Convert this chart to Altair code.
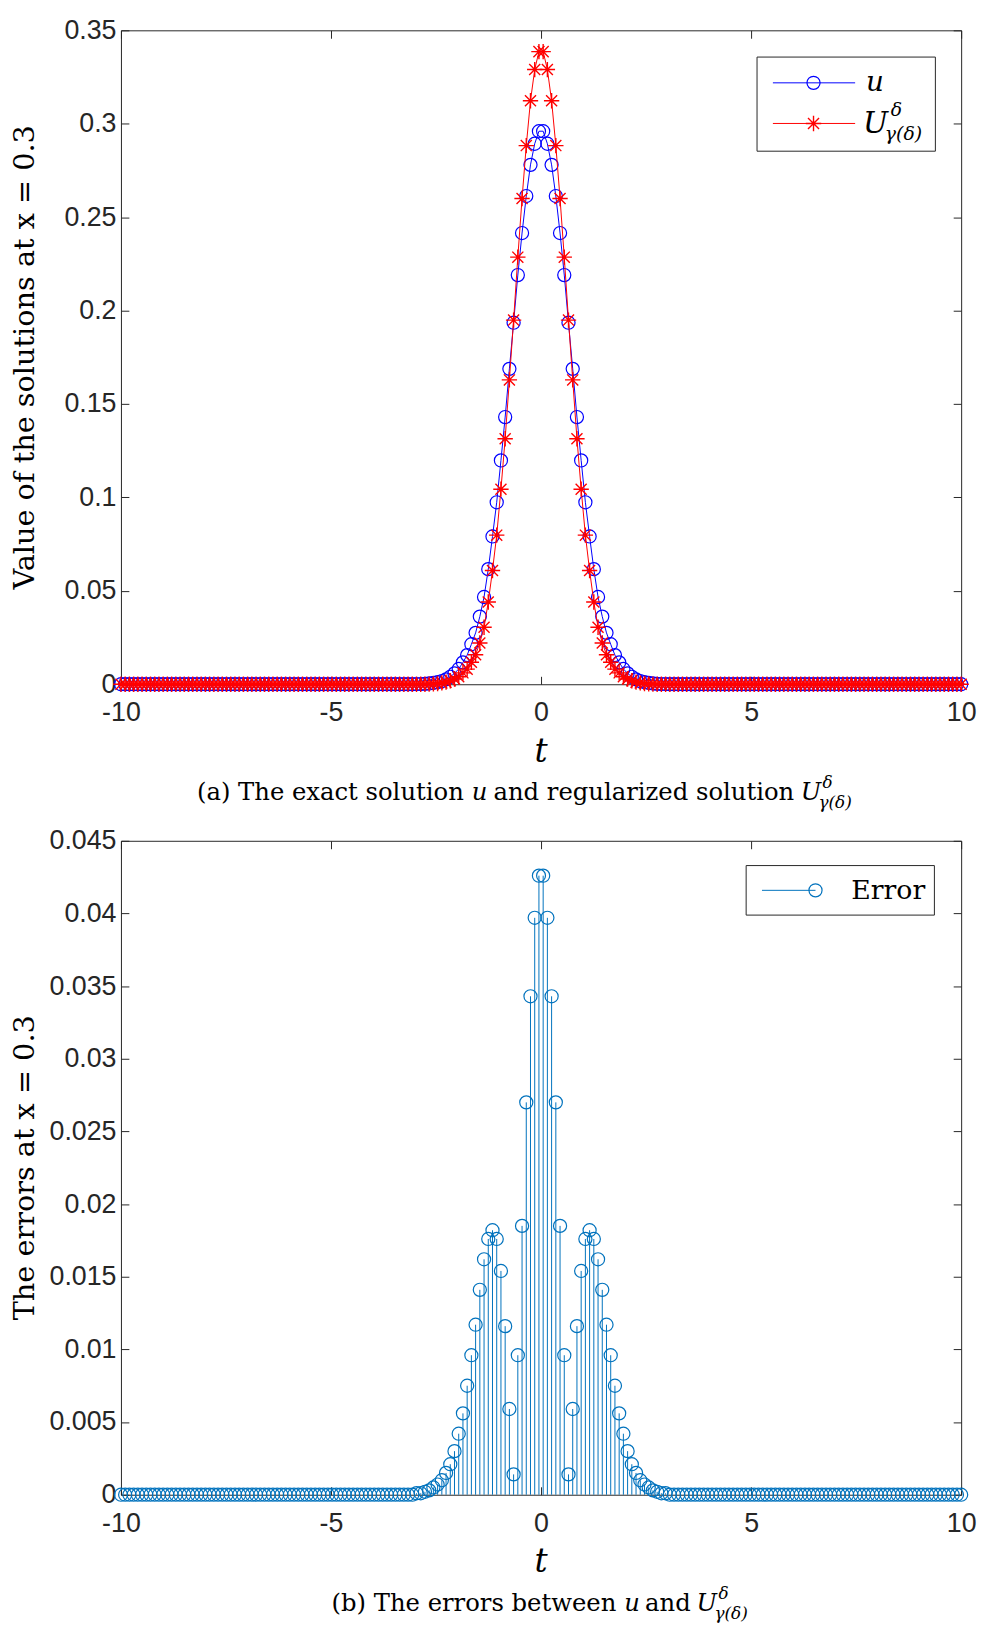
import altair as alt
import pandas as pd

# ---------------- data ----------------
T = [
    -10.0, -9.8995, -9.799, -9.6985, -9.598, -9.4975, -9.397, -9.2965, -9.196, -9.0955,
    -8.995, -8.8945, -8.794, -8.6935, -8.593, -8.4925, -8.392, -8.2915, -8.191, -8.0905,
    -7.9899, -7.8894, -7.7889, -7.6884, -7.5879, -7.4874, -7.3869, -7.2864, -7.1859, -7.0854,
    -6.9849, -6.8844, -6.7839, -6.6834, -6.5829, -6.4824, -6.3819, -6.2814, -6.1809, -6.0804,
    -5.9799, -5.8794, -5.7789, -5.6784, -5.5779, -5.4774, -5.3769, -5.2764, -5.1759, -5.0754,
    -4.9749, -4.8744, -4.7739, -4.6734, -4.5729, -4.4724, -4.3719, -4.2714, -4.1709, -4.0704,
    -3.9698, -3.8693, -3.7688, -3.6683, -3.5678, -3.4673, -3.3668, -3.2663, -3.1658, -3.0653,
    -2.9648, -2.8643, -2.7638, -2.6633, -2.5628, -2.4623, -2.3618, -2.2613, -2.1608, -2.0603,
    -1.9598, -1.8593, -1.7588, -1.6583, -1.5578, -1.4573, -1.3568, -1.2563, -1.1558, -1.0553,
    -0.9548, -0.8543, -0.7538, -0.6533, -0.5528, -0.4523, -0.3518, -0.2513, -0.1508, -0.0503,
    0.0503, 0.1508, 0.2513, 0.3518, 0.4523, 0.5528, 0.6533, 0.7538, 0.8543, 0.9548,
    1.0553, 1.1558, 1.2563, 1.3568, 1.4573, 1.5578, 1.6583, 1.7588, 1.8593, 1.9598,
    2.0603, 2.1608, 2.2613, 2.3618, 2.4623, 2.5628, 2.6633, 2.7638, 2.8643, 2.9648,
    3.0653, 3.1658, 3.2663, 3.3668, 3.4673, 3.5678, 3.6683, 3.7688, 3.8693, 3.9698,
    4.0704, 4.1709, 4.2714, 4.3719, 4.4724, 4.5729, 4.6734, 4.7739, 4.8744, 4.9749,
    5.0754, 5.1759, 5.2764, 5.3769, 5.4774, 5.5779, 5.6784, 5.7789, 5.8794, 5.9799,
    6.0804, 6.1809, 6.2814, 6.3819, 6.4824, 6.5829, 6.6834, 6.7839, 6.8844, 6.9849,
    7.0854, 7.1859, 7.2864, 7.3869, 7.4874, 7.5879, 7.6884, 7.7889, 7.8894, 7.9899,
    8.0905, 8.191, 8.2915, 8.392, 8.4925, 8.593, 8.6935, 8.794, 8.8945, 8.995,
    9.0955, 9.196, 9.2965, 9.397, 9.4975, 9.598, 9.6985, 9.799, 9.8995, 10.0,
]

U_EXACT = [
    0, 0, 0, 0, 0, 0, 0, 0, 0, 0,
    0, 0, 0, 0, 0, 0, 0, 0, 0, 0,
    0, 0, 0, 0, 0, 0, 0, 0, 0, 0,
    0, 0, 0, 0, 0, 0, 0, 0, 0, 0,
    0, 0, 0, 0, 0, 0, 0, 0, 0, 0,
    0, 0, 0, 0, 0, 0, 0, 0, 0, 0,
    0, 0, 0, 0, 0, 0, 0, 0, 0, 0,
    0.0001, 0.0001, 0.0002, 0.0004, 0.0007, 0.0011, 0.0017, 0.0026, 0.0040, 0.0058,
    0.0082, 0.0117, 0.0156, 0.0214, 0.0275, 0.0362, 0.0467, 0.0616, 0.0791, 0.0974,
    0.1198, 0.1430, 0.1688, 0.1935, 0.2190, 0.2415, 0.2613, 0.2780, 0.2893, 0.2960,
    0.2960, 0.2893, 0.2780, 0.2613, 0.2415, 0.2190, 0.1935, 0.1688, 0.1430, 0.1198,
    0.0974, 0.0791, 0.0616, 0.0467, 0.0362, 0.0275, 0.0214, 0.0156, 0.0117, 0.0082,
    0.0058, 0.0040, 0.0026, 0.0017, 0.0011, 0.0007, 0.0004, 0.0002, 0.0001, 0.0001,
    0, 0, 0, 0, 0, 0, 0, 0, 0, 0,
    0, 0, 0, 0, 0, 0, 0, 0, 0, 0,
    0, 0, 0, 0, 0, 0, 0, 0, 0, 0,
    0, 0, 0, 0, 0, 0, 0, 0, 0, 0,
    0, 0, 0, 0, 0, 0, 0, 0, 0, 0,
    0, 0, 0, 0, 0, 0, 0, 0, 0, 0,
    0, 0, 0, 0, 0, 0, 0, 0, 0, 0,
]

U_REG = [
    0, 0, 0, 0, 0, 0, 0, 0, 0, 0,
    0, 0, 0, 0, 0, 0, 0, 0, 0, 0,
    0, 0, 0, 0, 0, 0, 0, 0, 0, 0,
    0, 0, 0, 0, 0, 0, 0, 0, 0, 0,
    0, 0, 0, 0, 0, 0, 0, 0, 0, 0,
    0, 0, 0, 0, 0, 0, 0, 0, 0, 0,
    0, 0, 0, 0, 0, 0, 0, 0, 0, 0,
    0, 0, 0, 0.0001, 0.0002, 0.0004, 0.0007, 0.0011, 0.0019, 0.0028,
    0.0040, 0.0061, 0.0081, 0.0118, 0.0158, 0.0221, 0.0305, 0.0440, 0.0609, 0.0798,
    0.1044, 0.1314, 0.1629, 0.1949, 0.2286, 0.2600, 0.2883, 0.3123, 0.3290, 0.3386,
    0.3386, 0.3290, 0.3123, 0.2883, 0.2600, 0.2286, 0.1949, 0.1629, 0.1314, 0.1044,
    0.0798, 0.0609, 0.0440, 0.0305, 0.0221, 0.0158, 0.0118, 0.0081, 0.0061, 0.0040,
    0.0028, 0.0019, 0.0011, 0.0007, 0.0004, 0.0002, 0.0001, 0, 0, 0,
    0, 0, 0, 0, 0, 0, 0, 0, 0, 0,
    0, 0, 0, 0, 0, 0, 0, 0, 0, 0,
    0, 0, 0, 0, 0, 0, 0, 0, 0, 0,
    0, 0, 0, 0, 0, 0, 0, 0, 0, 0,
    0, 0, 0, 0, 0, 0, 0, 0, 0, 0,
    0, 0, 0, 0, 0, 0, 0, 0, 0, 0,
    0, 0, 0, 0, 0, 0, 0, 0, 0, 0,
]

ERR = [
    0, 0, 0, 0, 0, 0, 0, 0, 0, 0,
    0, 0, 0, 0, 0, 0, 0, 0, 0, 0,
    0, 0, 0, 0, 0, 0, 0, 0, 0, 0,
    0, 0, 0, 0, 0, 0, 0, 0, 0, 0,
    0, 0, 0, 0, 0, 0, 0, 0, 0, 0,
    0, 0, 0, 0, 0, 0, 0, 0, 0, 0,
    0, 0, 0, 0, 0, 0, 0, 0, 0, 0,
    0.0001, 0.0001, 0.0002, 0.0003, 0.0005, 0.0007, 0.0010, 0.0015, 0.0021, 0.0030,
    0.0042, 0.0056, 0.0075, 0.0096, 0.0117, 0.0141, 0.0162, 0.0176, 0.0182, 0.0176,
    0.0154, 0.0116, 0.0059, 0.0014, 0.0096, 0.0185, 0.0270, 0.0343, 0.0397, 0.0426,
    0.0426, 0.0397, 0.0343, 0.0270, 0.0185, 0.0096, 0.0014, 0.0059, 0.0116, 0.0154,
    0.0176, 0.0182, 0.0176, 0.0162, 0.0141, 0.0117, 0.0096, 0.0075, 0.0056, 0.0042,
    0.0030, 0.0021, 0.0015, 0.0010, 0.0007, 0.0005, 0.0003, 0.0002, 0.0001, 0.0001,
    0, 0, 0, 0, 0, 0, 0, 0, 0, 0,
    0, 0, 0, 0, 0, 0, 0, 0, 0, 0,
    0, 0, 0, 0, 0, 0, 0, 0, 0, 0,
    0, 0, 0, 0, 0, 0, 0, 0, 0, 0,
    0, 0, 0, 0, 0, 0, 0, 0, 0, 0,
    0, 0, 0, 0, 0, 0, 0, 0, 0, 0,
    0, 0, 0, 0, 0, 0, 0, 0, 0, 0,
]

X_TICKS = [-10, -5, 0, 5, 10]
TOP_Y_TICKS = [0, 0.05, 0.1, 0.15, 0.2, 0.25, 0.3, 0.35]
BOT_Y_TICKS = [0, 0.005, 0.01, 0.015, 0.02, 0.025, 0.03, 0.035, 0.04, 0.045]

# ---------------- styling ----------------
W, H = 848, 660
SERIF = "DejaVu Serif"
SANS = "Liberation Sans"
AX = "#262626"
BLUE = "#0000FF"
RED = "#FF0000"
STEM = "#0072BD"
STAR = "M-1,0L1,0M0,-1L0,1M-0.72,-0.72L0.72,0.72M-0.72,0.72L0.72,-0.72"
TICK_FS = 27
CAP_FS = 24.5
CIRC = 175
STAR_SIZE = 240

df = pd.DataFrame({"t": T, "u": U_EXACT, "U": U_REG, "err": ERR})
one = pd.DataFrame({"k": [0]})

xscale = alt.Scale(domain=[-10, 10], nice=False, zero=False)


def main_x_axis():
    return alt.Axis(orient="bottom", values=X_TICKS, labelExpr="'' + datum.value",
                    offset=-8, tickSize=8, tickColor=AX, tickWidth=1, domain=False,
                    grid=False, labelFont=SANS, labelFontSize=TICK_FS, labelColor=AX,
                    labelPadding=16, labelFlush=False, labelOverlap=False, title=None)


def main_y_axis(vals):
    return alt.Axis(orient="left", values=vals, labelExpr="'' + datum.value",
                    offset=-8, tickSize=8, tickColor=AX, tickWidth=1, domain=False,
                    grid=False, labelFont=SANS, labelFontSize=TICK_FS, labelColor=AX,
                    labelPadding=5, labelFlush=False, labelOverlap=False, title=None)


def sec_x_axis():
    return alt.Axis(orient="top", values=X_TICKS, offset=-8, tickSize=8, tickColor=AX,
                    tickWidth=1, labels=False, domain=False, grid=False, title=None,
                    minExtent=0, maxExtent=0)


def sec_y_axis(vals):
    return alt.Axis(orient="right", values=vals, offset=-8, tickSize=8, tickColor=AX,
                    tickWidth=1, labels=False, domain=False, grid=False, title=None,
                    minExtent=0, maxExtent=0)


def box(x1, x2, y1, y2):
    return alt.Chart(one).mark_rect(fill="white", stroke=AX, strokeWidth=1).encode(
        x=alt.value(x1), x2=alt.value(x2), y=alt.value(y1), y2=alt.value(y2))


def hline(x1, x2, y, color):
    return alt.Chart(one).mark_rule(color=color, strokeWidth=1).encode(
        x=alt.value(x1), x2=alt.value(x2), y=alt.value(y))


def sym(x, y, shape, color, size, sw=1.2):
    return alt.Chart(one).mark_point(shape=shape, filled=False, color=color, size=size,
                                     strokeWidth=sw, opacity=1).encode(
        x=alt.value(x), y=alt.value(y))


def txt(s, x, y, size, italic=False, align="left", baseline="alphabetic", angle=0):
    return alt.Chart(one).mark_text(text=s, font=SERIF, fontSize=size,
                                    fontStyle="italic" if italic else "normal",
                                    align=align, baseline=baseline, angle=angle,
                                    color="black").encode(x=alt.value(x), y=alt.value(y))


def caption_block(parts):
    return [txt(*p[:4], italic=p[4], align=p[5]) for p in parts]


# ---------------- top panel ----------------
ytop = alt.Scale(domain=[0, 0.35], nice=False, zero=False)

top_axes2 = alt.Chart(df).mark_point(opacity=0).encode(
    x=alt.X("t:Q", scale=xscale, axis=sec_x_axis()),
    y=alt.Y("u:Q", scale=ytop, axis=sec_y_axis(TOP_Y_TICKS)))
u_line = alt.Chart(df).mark_line(color=BLUE, strokeWidth=1).encode(
    x=alt.X("t:Q", scale=xscale, axis=main_x_axis()),
    y=alt.Y("u:Q", scale=ytop, axis=main_y_axis(TOP_Y_TICKS)))
u_pts = alt.Chart(df).mark_point(shape="circle", filled=False, color=BLUE, size=CIRC,
                                 strokeWidth=1.2, opacity=1).encode(
    x=alt.X("t:Q", scale=xscale, axis=None), y=alt.Y("u:Q", scale=ytop, axis=None))
U_line = alt.Chart(df).mark_line(color=RED, strokeWidth=1).encode(
    x=alt.X("t:Q", scale=xscale, axis=None), y=alt.Y("U:Q", scale=ytop, axis=None))
U_pts = alt.Chart(df).mark_point(shape=STAR, filled=False, color=RED, size=STAR_SIZE,
                                 strokeWidth=1.4, opacity=1).encode(
    x=alt.X("t:Q", scale=xscale, axis=None), y=alt.Y("U:Q", scale=ytop, axis=None))

top_legend = [
    box(642, 822, 27, 122),
    hline(658, 741, 53, BLUE), sym(699, 53, "circle", BLUE, CIRC),
    txt("u", 752, 61, 28, italic=True),
    hline(658, 741, 94, RED), sym(699, 94, STAR, RED, STAR_SIZE, 1.4),
    txt("U", 749, 104, 30, italic=True),
    txt("δ", 777, 86, 19, italic=True),
    txt("γ(δ)", 771, 111, 19, italic=True),
]
CAP_Y = H + 117
T_Y = H + 68
top_texts = [
    txt("Value of the solutions at x = 0.3", -97, H / 2, 29, align="center",
        baseline="middle", angle=270),
    txt("t", W / 2, T_Y, 33, italic=True, align="center", baseline="middle"),
] + caption_block([
    ("(a) The exact solution", 346, CAP_Y, CAP_FS, False, "right"),
    ("u", 354, CAP_Y, CAP_FS, True, "left"),
    ("and regularized solution", 376, CAP_Y, CAP_FS, False, "left"),
    ("U", 686, CAP_Y, CAP_FS, True, "left"),
    ("δ", 708, CAP_Y - 12, 17, True, "left"),
    ("γ(δ)", 704, CAP_Y + 8, 17, True, "left"),
])

top = alt.layer(top_axes2, u_line, u_pts, U_line, U_pts, *top_legend, *top_texts).resolve_axis(
    x="independent", y="independent").properties(width=W, height=H)

# ---------------- bottom panel ----------------
ybot = alt.Scale(domain=[0, 0.045], nice=False, zero=False)

bot_axes2 = alt.Chart(df).mark_point(opacity=0).encode(
    x=alt.X("t:Q", scale=xscale, axis=sec_x_axis()),
    y=alt.Y("err:Q", scale=ybot, axis=sec_y_axis(BOT_Y_TICKS)))
stems = alt.Chart(df).mark_rule(color=STEM, strokeWidth=1).encode(
    x=alt.X("t:Q", scale=xscale, axis=main_x_axis()),
    y=alt.Y("err:Q", scale=ybot, axis=main_y_axis(BOT_Y_TICKS)),
    y2=alt.datum(0))
stem_pts = alt.Chart(df).mark_point(shape="circle", filled=False, color=STEM, size=CIRC,
                                    strokeWidth=1.2, opacity=1).encode(
    x=alt.X("t:Q", scale=xscale, axis=None), y=alt.Y("err:Q", scale=ybot, axis=None))

bot_legend = [
    box(631, 821, 25, 75),
    hline(647, 701, 50, STEM), sym(701, 50, "circle", STEM, CIRC),
    txt("Error", 737, 59, 27),
]
bot_texts = [
    txt("The errors at x = 0.3", -97, H / 2, 29, align="center", baseline="middle",
        angle=270),
    txt("t", W / 2, T_Y, 33, italic=True, align="center", baseline="middle"),
] + caption_block([
    ("(b) The errors between", 500, CAP_Y, CAP_FS, False, "right"),
    ("u", 508, CAP_Y, CAP_FS, True, "left"),
    ("and", 529, CAP_Y, CAP_FS, False, "left"),
    ("U", 581, CAP_Y, CAP_FS, True, "left"),
    ("δ", 603, CAP_Y - 12, 17, True, "left"),
    ("γ(δ)", 599, CAP_Y + 8, 17, True, "left"),
])

bottom = alt.layer(bot_axes2, stems, stem_pts, *bot_legend, *bot_texts).resolve_axis(
    x="independent", y="independent").properties(width=W, height=H)

chart = alt.vconcat(top, bottom, spacing=14).configure_view(
    stroke=AX, strokeWidth=1).properties(padding={"left": 2, "top": 0, "right": 0, "bottom": 0})

chart.save("out.html", embed_options={"renderer": "svg", "actions": False})
